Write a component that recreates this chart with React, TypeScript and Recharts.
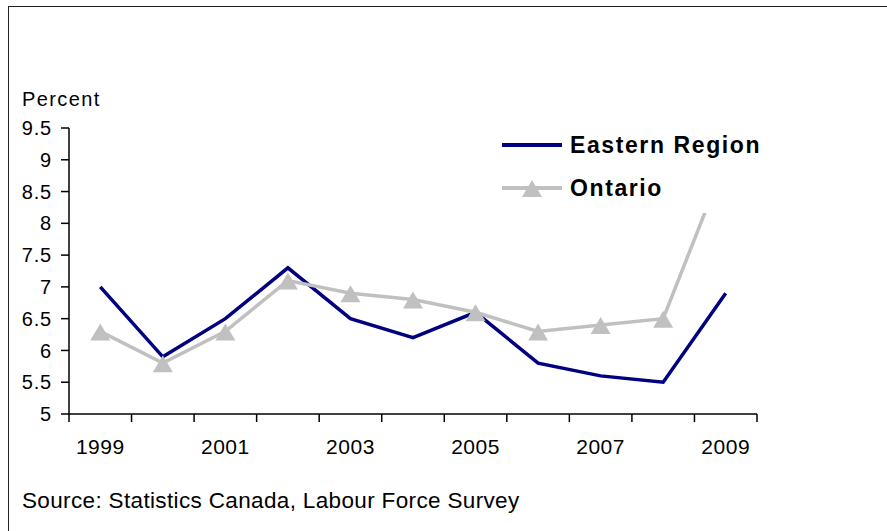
import { Legend, Line, LineChart, XAxis, YAxis } from "recharts";

const years = [1999, 2000, 2001, 2002, 2003, 2004, 2005, 2006, 2007, 2008, 2009];
const eastern = [7.0, 5.9, 6.5, 7.3, 6.5, 6.2, 6.6, 5.8, 5.6, 5.5, 6.9];
const ontario = [6.3, 5.8, 6.3, 7.1, 6.9, 6.8, 6.6, 6.3, 6.4, 6.5, 9.0];
const yTicks = [5, 5.5, 6, 6.5, 7, 7.5, 8, 8.5, 9, 9.5];

const NAVY = "#000080";
const GREY = "#c0c0c0";
const FONT = '"Liberation Sans", Arial, sans-serif';

// x is the middle of each year's slot, so the tick marks fall between years
const data = years.map((year, i) => ({
  x: i + 0.5,
  year,
  eastern: eastern[i],
  ontario: ontario[i],
}));
const xTicks = Array.from({ length: years.length * 2 + 1 }, (_, i) => i / 2);

const triangle = (cx: number, cy: number, key?: number) => (
  <polygon
    key={key}
    points={`${cx},${cy - 8} ${cx - 10},${cy + 9} ${cx + 10},${cy + 9}`}
    fill={GREY}
  />
);

const YearTick = (props: any) => {
  const { x, y, payload } = props;
  const v = payload.value as number;
  if (Number.isInteger(v)) {
    return <line x1={x} x2={x} y1={y} y2={y + 8} stroke="#000" strokeWidth={1.5} />;
  }
  const i = v - 0.5;
  if (i % 2 !== 0) return null;
  return (
    <text x={x} y={y + 40} textAnchor="middle" fontSize={21} letterSpacing={0.5} fontFamily={FONT} fill="#000">
      {years[i]}
    </text>
  );
};

const LegendBox = () => (
  <div style={{ background: "#fff", width: 280, height: 91, fontFamily: FONT }}>
    <svg width={280} height={91}>
      <line x1={7} x2={67} y1={23} y2={23} stroke={NAVY} strokeWidth={4} />
      <text x={75} y={31} fontSize={23} fontWeight="bold" letterSpacing={1.6} fill="#000">
        Eastern Region
      </text>
      <line x1={7} x2={67} y1={66} y2={66} stroke={GREY} strokeWidth={4} />
      {triangle(37, 66)}
      <text x={75} y={74} fontSize={23} fontWeight="bold" letterSpacing={1.6} fill="#000">
        Ontario
      </text>
    </svg>
  </div>
);

export default function App() {
  return (
    <div style={{ position: "absolute", left: 0, top: 0, width: 887, height: 531, overflow: "hidden", background: "#fff" }}>
      <div
        style={{
          position: "absolute",
          left: 8,
          top: 6,
          width: 890,
          height: 540,
          borderTop: "1.5px solid #222",
          borderLeft: "1.5px solid #222",
        }}
      />
      <div style={{ position: "absolute", left: 22, top: 88, fontSize: 20, letterSpacing: 1.4, fontFamily: FONT, color: "#000" }}>
        Percent
      </div>
      <LineChart width={887} height={531} data={data} margin={{ top: 128, right: 130, bottom: 77, left: 9 }}>
        <XAxis
          dataKey="x"
          type="number"
          domain={[0, years.length]}
          ticks={xTicks}
          interval={0}
          tick={<YearTick />}
          tickLine={false}
          tickSize={0}
          tickMargin={0}
          height={40}
          axisLine={{ stroke: "#000", strokeWidth: 1.5 }}
        />
        <YAxis
          domain={[5, 9.5]}
          ticks={yTicks}
          interval={0}
          width={60}
          tickSize={8}
          tickMargin={9}
          tick={{ fontSize: 20, fontFamily: FONT, fill: "#000", letterSpacing: 0.8 }}
          tickLine={{ stroke: "#000", strokeWidth: 1.5 }}
          axisLine={{ stroke: "#000", strokeWidth: 1.5 }}
        />
        <Line dataKey="eastern" stroke={NAVY} strokeWidth={3.5} dot={false} isAnimationActive={false} />
        <Line
          dataKey="ontario"
          stroke={GREY}
          strokeWidth={3.5}
          dot={(p: any) => triangle(p.cx, p.cy, p.index)}
          isAnimationActive={false}
        />
        <Legend
          layout="horizontal"
          verticalAlign="middle"
          align="center"
          content={<LegendBox />}
          wrapperStyle={{ left: 495, top: 122, width: 280, height: 91 }}
        />
      </LineChart>
      <div style={{ position: "absolute", left: 22, top: 488, fontSize: 22.5, letterSpacing: 0.35, fontFamily: FONT, color: "#000" }}>
        Source: Statistics Canada, Labour Force Survey
      </div>
    </div>
  );
}
